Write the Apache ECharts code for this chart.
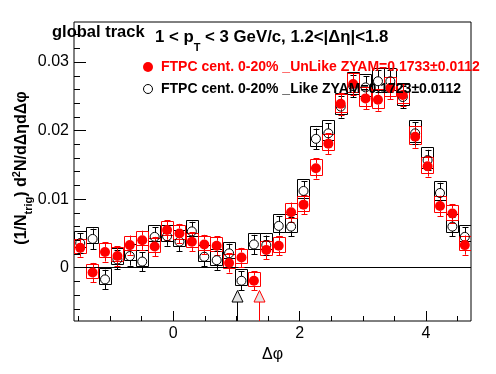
<!DOCTYPE html>
<html><head><meta charset="utf-8">
<script src="https://cdn.jsdelivr.net/npm/echarts@6/dist/echarts.min.js"></script>
<style>html,body{margin:0;padding:0;background:#fff}#c{width:496px;height:374px}</style>
</head><body><div id="c"></div>
<script>
// bin centres in Δφ (32 bins over [-π/2, 3π/2])
const binCenters = [-1.4726,-1.2763,-1.0799,-0.8836,-0.6872,-0.4909,-0.2945,-0.0982,
  0.0982,0.2945,0.4909,0.6872,0.8836,1.0799,1.2763,1.4726,
  1.6690,1.8653,2.0617,2.2580,2.4544,2.6507,2.8471,3.0434,
  3.2398,3.4361,3.6325,3.8288,4.0252,4.2215,4.4179,4.6142];
const binWidth = Math.PI / 16;

// FTPC cent. 0-20% _UnLike (red)
const unlikeVals = [0.0029,-0.0007,0.0023,0.0017,0.0033,0.0040,0.0031,0.0055,
  0.0050,0.0038,0.0034,0.0032,0.0007,0.0015,-0.0019,0.0026,
  0.0032,0.0081,0.0092,0.0145,0.0181,0.0239,0.0268,0.0247,
  0.0245,0.0262,0.0252,0.0191,0.0148,0.0090,0.0079,0.0033];
const unlikeErr = [0.0013,0.0014,0.0014,0.0014,0.0014,0.0014,0.0014,0.0014,
  0.0014,0.0014,0.0014,0.0014,0.0014,0.0014,0.0014,0.0014,
  0.0014,0.0014,0.0014,0.0015,0.0015,0.0016,0.0016,0.0016,
  0.0016,0.0016,0.0016,0.0016,0.0015,0.0015,0.0014,0.0014];
const unlikeSysHi = [0.0013,0.0013,0.0013,0.0013,0.0013,0.0013,0.0013,0.0013,
  0.0013,0.0013,0.0013,0.0013,0.0013,0.0013,0.0013,0.0013,
  0.0013,0.0013,0.0013,0.0014,0.0014,0.0015,0.0016,0.0016,
  0.0016,0.0016,0.0016,0.0015,0.0014,0.0014,0.0013,0.0013];
const unlikeSysLo = [0.0008,0.0008,0.0008,0.0008,0.0008,0.0008,0.0008,0.0008,
  0.0008,0.0008,0.0008,0.0008,0.0008,0.0008,0.0008,0.0008,
  0.0009,0.0009,0.0009,0.0010,0.0010,0.0011,0.0011,0.0011,
  0.0011,0.0011,0.0011,0.0011,0.0010,0.0009,0.0009,0.0008];

// FTPC cent. 0-20% _Like (black)
const likeVals = [0.0036,0.0042,-0.0017,0.0012,0.0017,0.0009,0.0045,0.0046,
  0.0038,0.0053,0.0016,0.0011,0.0021,-0.0019,0.0034,0.0033,
  0.0061,0.0060,0.0112,0.0188,0.0196,0.0235,0.0265,0.0263,
  0.0272,0.0272,0.0249,0.0196,0.0157,0.0109,0.0060,0.0045];
const likeErr = [0.0014,0.0015,0.0014,0.0014,0.0014,0.0014,0.0014,0.0014,
  0.0014,0.0014,0.0014,0.0014,0.0014,0.0014,0.0014,0.0014,
  0.0014,0.0014,0.0014,0.0015,0.0015,0.0016,0.0016,0.0016,
  0.0016,0.0016,0.0016,0.0016,0.0015,0.0015,0.0014,0.0014];
const likeSysHi = [0.0017,0.0017,0.0017,0.0017,0.0017,0.0017,0.0017,0.0017,
  0.0017,0.0017,0.0017,0.0017,0.0017,0.0017,0.0017,0.0017,
  0.0018,0.0018,0.0018,0.0019,0.0019,0.0020,0.0020,0.0020,
  0.0020,0.0020,0.0020,0.0020,0.0019,0.0018,0.0018,0.0017];
const likeSysLo = [0.0007,0.0007,0.0007,0.0007,0.0007,0.0007,0.0007,0.0007,
  0.0007,0.0007,0.0007,0.0007,0.0007,0.0007,0.0007,0.0007,
  0.0008,0.0008,0.0009,0.0010,0.0010,0.0011,0.0012,0.0012,
  0.0012,0.0012,0.0012,0.0012,0.0011,0.0009,0.0008,0.0007];

// ZYAM minimum markers (Δφ position, level)
const zyamX = [1.01, 1.35];
const zyamY = [-0.0042, -0.0042];
const zyamColors = ['#000000', '#ff0000'];

// axes
const xMin = -Math.PI / 2, xMax = 3 * Math.PI / 2;
const yMin = -0.00777, yMax = 0.03584;
const xMajor = [0, 2, 4];
const xMinor = [-1.5, -1, -0.5, 0.5, 1, 1.5, 2.5, 3, 3.5, 4.5];
const yMajor = [0, 0.01, 0.02, 0.03];
const yMinor = [-0.006,-0.004,-0.002,0.002,0.004,0.006,0.008,0.012,0.014,0.016,0.018,
  0.022,0.024,0.026,0.028,0.032,0.034];

const FONT = 'Liberation Sans, Arial, Helvetica, sans-serif';
const RED = '#ff0000';

function boxSeries(vals, lo, hi, color, z) {
  return {
    type: 'custom', xAxisIndex: 0, yAxisIndex: 0, z: z, clip: true, silent: true,
    data: binCenters.map((x, i) => [x, vals[i], lo[i], hi[i]]),
    renderItem: function (params, api) {
      const x = api.value(0), v = api.value(1), l = api.value(2), h = api.value(3);
      const p1 = api.coord([x - binWidth / 2, v + h]);
      const p2 = api.coord([x + binWidth / 2, v - l]);
      return { type: 'rect', shape: { x: Math.round(p1[0]) + 0.5, y: Math.round(p1[1]) + 0.5,
        width: Math.round(p2[0] - p1[0]), height: Math.round(p2[1] - p1[1]) },
        style: { fill: 'none', stroke: color, lineWidth: 1 } };
    }
  };
}
function errSeries(vals, err, color, r, z) {
  return {
    type: 'custom', xAxisIndex: 0, yAxisIndex: 0, z: z, clip: true, silent: true,
    data: binCenters.map((x, i) => [x, vals[i], err[i]]),
    renderItem: function (params, api) {
      const x = api.value(0), v = api.value(1), e = api.value(2);
      const c = api.coord([x, v]);
      const t = api.coord([x, v + e]);
      const b = api.coord([x, v - e]);
      const cx = Math.round(c[0]) + 0.5;
      const ch = [];
      const st = { stroke: color, lineWidth: 1 };
      if (c[1] - r > t[1]) ch.push({ type: 'line', shape: { x1: cx, y1: c[1] - r, x2: cx, y2: t[1] }, style: st });
      if (c[1] + r < b[1]) ch.push({ type: 'line', shape: { x1: cx, y1: c[1] + r, x2: cx, y2: b[1] }, style: st });
      const ty = Math.round(t[1]) + 0.5, by = Math.round(b[1]) + 0.5;
      ch.push({ type: 'line', shape: { x1: cx - 3, y1: ty, x2: cx + 3, y2: ty }, style: st });
      ch.push({ type: 'line', shape: { x1: cx - 3, y1: by, x2: cx + 3, y2: by }, style: st });
      return { type: 'group', children: ch };
    }
  };
}

const chart = echarts.init(document.getElementById('c'), null, { renderer: 'canvas' });
const option = {
  animation: false,
  backgroundColor: '#ffffff',
  grid: { left: 74, right: 25, top: 22, bottom: 53, show: true, borderColor: '#000', borderWidth: 1,
    backgroundColor: 'transparent', containLabel: false, outerBoundsMode: 'none' },
  xAxis: [
    { type: 'value', min: xMin, max: xMax, position: 'bottom',
      axisLine: { show: false, onZero: false }, splitLine: { show: false },
      axisTick: { show: true, inside: true, length: 10, customValues: xMajor, lineStyle: { color: '#000', width: 1 } },
      axisLabel: { customValues: xMajor, margin: 5, fontSize: 16, color: '#000', fontFamily: FONT },
      name: 'Δφ', nameLocation: 'middle', nameGap: 23,
      nameTextStyle: { fontSize: 16, color: '#000', fontFamily: FONT } },
    { type: 'value', min: xMin, max: xMax, position: 'bottom',
      axisLine: { show: false, onZero: false }, splitLine: { show: false },
      axisTick: { show: true, inside: true, length: 5, customValues: xMinor, lineStyle: { color: '#000', width: 1 } },
      axisLabel: { show: false } }
  ],
  yAxis: [
    { type: 'value', min: yMin, max: yMax, position: 'left',
      axisLine: { show: false, onZero: false }, splitLine: { show: false },
      axisTick: { show: true, inside: true, length: 12, customValues: yMajor, lineStyle: { color: '#000', width: 1 } },
      axisLabel: { customValues: yMajor, margin: 5, fontSize: 16, color: '#000', fontFamily: FONT,
        formatter: v => (Math.abs(v) < 1e-9 ? '0' : String(+v.toFixed(2))) } },
    { type: 'value', min: yMin, max: yMax, position: 'left',
      axisLine: { show: false, onZero: false }, splitLine: { show: false },
      axisTick: { show: true, inside: true, length: 6, customValues: yMinor, lineStyle: { color: '#000', width: 1 } },
      axisLabel: { show: false } }
  ],
  series: [
    boxSeries(likeVals, likeSysLo, likeSysHi, '#000', 3),
    boxSeries(unlikeVals, unlikeSysLo, unlikeSysHi, RED, 4),
    errSeries(likeVals, likeErr, '#000', 4.5, 5),
    errSeries(unlikeVals, unlikeErr, RED, 5, 6),
    { type: 'scatter', xAxisIndex: 0, yAxisIndex: 0, z: 7, silent: true,
      data: binCenters.map((x, i) => [x, likeVals[i]]),
      symbol: 'circle', symbolSize: 9,
      itemStyle: { color: 'rgba(0,0,0,0)', borderColor: '#000', borderWidth: 1, opacity: 1 },
      markLine: { silent: true, symbol: 'none', label: { show: false },
        lineStyle: { color: '#000', width: 1, type: 'solid' }, data: [{ yAxis: 0 }] } },
    { type: 'scatter', xAxisIndex: 0, yAxisIndex: 0, z: 8, silent: true,
      data: binCenters.map((x, i) => [x, unlikeVals[i]]),
      symbol: 'circle', symbolSize: 10, itemStyle: { color: RED, opacity: 1 } },
    { type: 'custom', xAxisIndex: 0, yAxisIndex: 0, z: 9, clip: false, silent: true,
      data: zyamX.map((x, i) => [x, zyamY[i], i]),
      renderItem: function (params, api) {
        const x = api.value(0), y = api.value(1), idx = api.value(2);
        const col = zyamColors[idx];
        const c = api.coord([x, y]);
        const bot = api.coord([x, yMin]);
        const cx = Math.round(c[0]) + 0.5;
        return { type: 'group', children: [
          { type: 'line', shape: { x1: cx, y1: c[1] + 5.5, x2: cx, y2: bot[1] }, style: { stroke: col, lineWidth: 1 } },
          { type: 'polygon', shape: { points: [[cx, c[1] - 6], [cx - 5.5, c[1] + 5.5], [cx + 5.5, c[1] + 5.5]] },
            style: { fill: '#e4e4e4', stroke: col, lineWidth: 1 } }
        ] };
      } }
  ],
  graphic: [
    { type: 'text', x: 52, y: 41, z: 100, style: { text: 'global track', fontSize: 16.5, fontWeight: 'bold',
      fontFamily: FONT, fill: '#000', verticalAlign: 'bottom' } },
    { type: 'text', x: 155, y: 37, z: 100, style: {
      text: '{a|1 < p}{s|T}{a| < 3 GeV/c, 1.2<|Δη|<1.8}',
      verticalAlign: 'middle', fill: '#000', fontFamily: FONT,
      rich: { a: { fontSize: 16.8, fontWeight: 'bold', fontFamily: FONT, fill: '#000' },
              s: { fontSize: 11, fontWeight: 'bold', fontFamily: FONT, fill: '#000', padding: [22, 0, 0, 0] } } } },
    { type: 'circle', z: 100, shape: { cx: 148, cy: 67, r: 5 }, style: { fill: RED } },
    { type: 'circle', z: 100, shape: { cx: 148, cy: 89, r: 4.5 }, style: { fill: 'none', stroke: '#000', lineWidth: 1 } },
    { type: 'text', x: 161, y: 67, z: 100, style: { text: 'FTPC cent. 0-20% _UnLike ZYAM=0.1733±0.0112',
      fontSize: 14, fontWeight: 'bold', fontFamily: FONT, fill: RED, verticalAlign: 'middle' } },
    { type: 'text', x: 161, y: 89, z: 100, style: { text: 'FTPC cent. 0-20% _Like ZYAM=0.1723±0.0112',
      fontSize: 14, fontWeight: 'bold', fontFamily: FONT, fill: '#000', verticalAlign: 'middle' } },
    { type: 'text', x: 22, y: 168, rotation: Math.PI / 2, z: 100, style: {
      text: '{a|(1/N}{s|trig}{a|) d}{p|2}{a|N/dΔηdΔφ}',
      align: 'center', verticalAlign: 'middle', fill: '#000', fontFamily: FONT,
      rich: { a: { fontSize: 16, fontWeight: 'bold', fontFamily: FONT, fill: '#000' },
              s: { fontSize: 11, fontWeight: 'bold', fontFamily: FONT, fill: '#000', padding: [14, 0, 0, 0] },
              p: { fontSize: 11, fontWeight: 'bold', fontFamily: FONT, fill: '#000', padding: [0, 0, 10, 0] } } } }
  ]
};
chart.setOption(option);
</script>
</body></html>
